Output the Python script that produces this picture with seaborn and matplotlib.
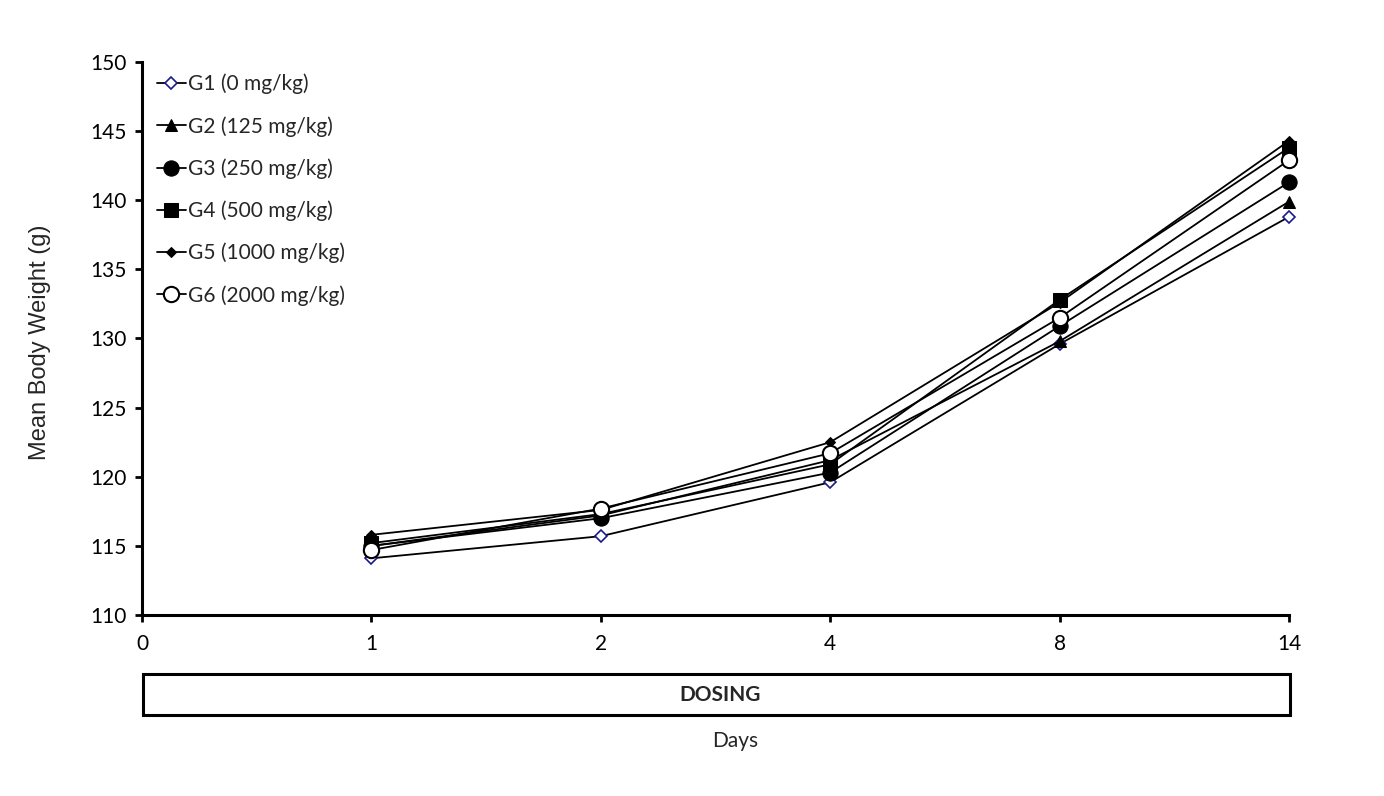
import matplotlib
matplotlib.use("Agg")
import matplotlib.pyplot as plt
import seaborn as sns
import pandas as pd
from matplotlib.patches import Rectangle

sns.set_theme(style="white")
plt.rcParams['font.family'] = ['Lato', 'DejaVu Sans']

tick_labels = ["0", "1", "2", "4", "8", "14"]
days = ["1", "2", "4", "8", "14"]
groups = ["G1 (0 mg/kg)", "G2 (125 mg/kg)", "G3 (250 mg/kg)",
          "G4 (500 mg/kg)", "G5 (1000 mg/kg)", "G6 (2000 mg/kg)"]
g1 = [114.1, 115.7, 119.6, 129.6, 138.8]
g2 = [115.0, 117.2, 121.2, 129.8, 139.9]
g3 = [115.0, 117.0, 120.3, 130.9, 141.3]
g4 = [115.2, 117.3, 120.9, 132.8, 143.8]
g5 = [115.8, 117.6, 122.5, 132.6, 144.3]
g6 = [114.7, 117.7, 121.7, 131.5, 142.9]
values = [g1, g2, g3, g4, g5, g6]

styles = [
    dict(marker="D", markersize=6, markerfacecolor="white", markeredgecolor="#1a1a8c", markeredgewidth=1.2),
    dict(marker="^", markersize=8, markerfacecolor="black", markeredgecolor="black"),
    dict(marker="o", markersize=11, markerfacecolor="black", markeredgecolor="black"),
    dict(marker="s", markersize=10, markerfacecolor="black", markeredgecolor="black"),
    dict(marker="D", markersize=5, markerfacecolor="black", markeredgecolor="black"),
    dict(marker="o", markersize=11, markerfacecolor="white", markeredgecolor="black", markeredgewidth=1.5),
]

fig = plt.figure(figsize=(13.84, 7.96), dpi=100)
ax = fig.add_axes([142/1384, 1-615/796, (1289-142)/1384, (615-62)/796])

for name, vals, st in zip(groups, values, styles):
    df = pd.DataFrame({"pos": [tick_labels.index(d) for d in days], "w": vals})
    sns.lineplot(data=df, x="pos", y="w", ax=ax, color="black", linewidth=1.3,
                 label=name, clip_on=False, **st)

ax.set_xlim(0, 5)
ax.set_ylim(110, 150)
ax.set_xticks(range(len(tick_labels)))
ax.set_xticklabels(tick_labels)
ax.set_yticks(range(110, 151, 5))
for s in ["top", "right"]:
    ax.spines[s].set_visible(False)
for s in ["left", "bottom"]:
    ax.spines[s].set_linewidth(2.2)
    ax.spines[s].set_color("black")
ax.tick_params(axis="both", direction="out", length=5, width=2, colors="black",
               labelsize=15, left=True, bottom=True)
ax.tick_params(axis="x", pad=9)
ax.tick_params(axis="y", pad=6)
ax.set_xlabel("")
ax.set_ylabel("Mean Body Weight (g)", fontsize=17, family=["Liberation Sans", "DejaVu Sans"])
ax.yaxis.set_label_coords(40/1384, 1-342/796, transform=fig.transFigure)
ax.yaxis.label.set_va("center")

leg = ax.legend(loc="upper left", bbox_to_anchor=(0.0, 1.005), frameon=False,
                fontsize=15, handlelength=1.4, labelspacing=1.04, handletextpad=0.1,
                borderaxespad=0.3)

# DOSING box
fig.patches.append(Rectangle((143/1384, 1-715/796), (1290-143)/1384, 41/796,
                             transform=fig.transFigure, fill=False,
                             edgecolor="black", linewidth=2.2))
fig.text(720/1384, 1-695/796, "DOSING", ha="center", va="center",
         fontsize=15, fontweight="bold")
fig.text(735/1384, 1-741/796, "Days", ha="center", va="center", fontsize=15)

fig.savefig("out.png", dpi=100, facecolor="white")
